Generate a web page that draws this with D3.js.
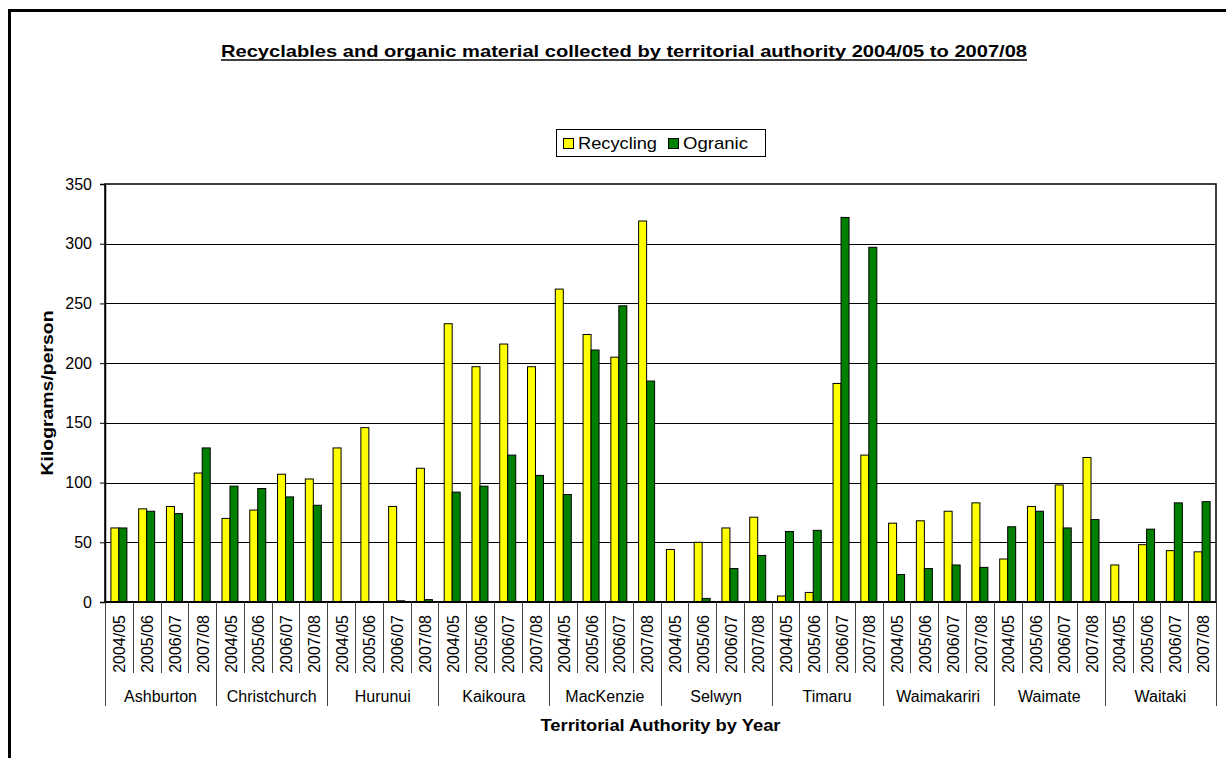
<!DOCTYPE html>
<html>
<head>
<meta charset="utf-8">
<script src="https://cdn.jsdelivr.net/npm/d3@7"></script>
<style>
  body { margin: 0; background: #fff; }
  text { font-family: Arial, "Liberation Sans", sans-serif; fill: #000; }
</style>
</head>
<body>
<div id="chart"></div>
<script>
// chart data (kg/person)
var authorities = ["Ashburton", "Christchurch", "Hurunui", "Kaikoura", "MacKenzie",
  "Selwyn", "Timaru", "Waimakariri", "Waimate", "Waitaki"];
var years = ["2004/05", "2005/06", "2006/07", "2007/08"];
var seriesNames = ["Recycling", "Ogranic"];
var seriesColors = ["#ffff00", "#008000"];

var recycling = [
  62, 78, 80, 108,
  70, 77, 107, 103,
  129, 146, 80, 112,
  233, 197, 216, 197,
  262, 224, 205, 319,
  44, 50, 62, 71,
  5, 8, 183, 123,
  66, 68, 76, 83,
  36, 80, 98, 121,
  31, 48, 43, 42
];
var organic = [
  62, 76, 74, 129,
  97, 95, 88, 81,
  0, 0, 1, 2,
  92, 97, 123, 106,
  90, 211, 248, 185,
  0, 3, 28, 39,
  59, 60, 322, 297,
  23, 28, 31, 29,
  63, 76, 62, 69,
  0, 61, 83, 84
];
var yTicks = [0, 50, 100, 150, 200, 250, 300, 350];

var svgWidth = 1226;
var svgHeight = 758;
var margin = { top: 184, right: 10, bottom: 156, left: 105 };
var width = 1216 - margin.left;
var height = 602 - margin.top;

var svg = d3.select("#chart")
  .append("svg")
  .attr("width", svgWidth)
  .attr("height", svgHeight);

// outer frame (only left and top edges fall inside the picture)
svg.append("rect")
  .attr("x", 9.5)
  .attr("y", 10.5)
  .attr("width", 1400)
  .attr("height", 900)
  .attr("fill", "none")
  .attr("stroke", "#000")
  .attr("stroke-width", 3);

// title
svg.append("text")
  .attr("x", 624)
  .attr("y", 57)
  .attr("text-anchor", "middle")
  .attr("font-size", "17px")
  .attr("font-weight", "bold")
  .attr("textLength", 806)
  .attr("lengthAdjust", "spacingAndGlyphs")
  .text("Recyclables and organic material collected by territorial authority 2004/05 to 2007/08");
svg.append("line")
  .attr("x1", 624 - 403).attr("x2", 624 + 403)
  .attr("y1", 60).attr("y2", 60)
  .attr("stroke", "#000").attr("stroke-width", 1.5);

// legend
var legend = svg.append("g");
legend.append("rect")
  .attr("x", 556.5).attr("y", 129.5)
  .attr("width", 209).attr("height", 27)
  .attr("fill", "#fff").attr("stroke", "#000");
var legendX = [563, 668];
var legendW = [79, 65];
seriesNames.forEach(function (name, i) {
  legend.append("rect")
    .attr("x", legendX[i] + 0.5).attr("y", 138.5)
    .attr("width", 10).attr("height", 10)
    .attr("fill", seriesColors[i]).attr("stroke", "#000");
  legend.append("text")
    .attr("x", legendX[i] + 15)
    .attr("y", 149)
    .attr("font-size", "17px")
    .attr("textLength", legendW[i])
    .attr("lengthAdjust", "spacingAndGlyphs")
    .text(name);
});

var chartGroup = svg.append("g")
  .attr("transform", `translate(${margin.left}, ${margin.top})`);

// scales
var keys = [];
authorities.forEach(function (a, i) {
  years.forEach(function (y, j) { keys.push(i * years.length + j); });
});

var x0 = d3.scaleBand()
  .domain(keys)
  .range([0, width])
  .padding(0);

var x1 = d3.scaleBand()
  .domain([0, 1])
  .range([0, x0.step()])
  .paddingInner(0)
  .paddingOuter(0.736);

var yLinearScale = d3.scaleLinear()
  .domain([0, 350])
  .range([height, 0]);

// gridlines
chartGroup.append("g")
  .selectAll("line")
  .data(yTicks.slice(1, -1))
  .enter()
  .append("line")
  .attr("x1", 0).attr("x2", width)
  .attr("y1", d => Math.round(yLinearScale(d)) + 0.5)
  .attr("y2", d => Math.round(yLinearScale(d)) + 0.5)
  .attr("stroke", "#000")
  .attr("stroke-width", 1);

// plot border
chartGroup.append("rect")
  .attr("x", 0).attr("y", 0)
  .attr("width", width).attr("height", height)
  .attr("fill", "none")
  .attr("stroke", "#000")
  .attr("stroke-width", 1.5);

// y axis
var leftAxis = d3.axisLeft(yLinearScale)
  .tickValues(yTicks)
  .tickSize(5)
  .tickPadding(8);
var yAxis = chartGroup.append("g").call(leftAxis);
yAxis.select(".domain").attr("stroke", "#000").attr("stroke-width", 1.5);
yAxis.selectAll("text")
  .attr("font-size", "16px")
  .attr("font-family", "Arial, 'Liberation Sans', sans-serif")
  .attr("fill", "#000");

// bars
var series = [recycling, organic];
series.forEach(function (vals, s) {
  chartGroup.append("g")
    .selectAll("rect")
    .data(vals)
    .enter()
    .append("rect")
    .attr("x", (d, i) => x0(i) + x1(s))
    .attr("y", d => yLinearScale(d))
    .attr("width", x1.bandwidth())
    .attr("height", d => height - yLinearScale(d))
    .attr("fill", seriesColors[s])
    .attr("stroke", "#000")
    .attr("stroke-width", 1)
    .attr("display", d => d > 0 ? null : "none");
});

// x axis line
chartGroup.append("line")
  .attr("x1", 0).attr("x2", width)
  .attr("y1", height).attr("y2", height)
  .attr("stroke", "#000")
  .attr("stroke-width", 2);

// year separators and labels
var xAxis = chartGroup.append("g").attr("transform", `translate(0, ${height})`);
xAxis.selectAll(".yearSep")
  .data(keys.filter(k => k % years.length !== 0))
  .enter()
  .append("line")
  .attr("x1", d => Math.round(x0(d)) + 0.5)
  .attr("x2", d => Math.round(x0(d)) + 0.5)
  .attr("y1", 0).attr("y2", 71)
  .attr("stroke", "#444");

xAxis.selectAll(".groupSep")
  .data(d3.range(authorities.length + 1))
  .enter()
  .append("line")
  .attr("x1", d => Math.round(d * years.length * x0.step()) + 0.5)
  .attr("x2", d => Math.round(d * years.length * x0.step()) + 0.5)
  .attr("y1", 0).attr("y2", 104)
  .attr("stroke", "#444");

xAxis.selectAll(".yearText")
  .data(keys)
  .enter()
  .append("text")
  .attr("transform", d => `translate(${x0(d) + x0.step() / 2 + 1}, 13) rotate(-90)`)
  .attr("text-anchor", "end")
  .attr("dy", "0.35em")
  .attr("font-size", "16px")
  .text(d => years[d % years.length]);

xAxis.selectAll(".authText")
  .data(authorities)
  .enter()
  .append("text")
  .attr("x", (d, i) => (i + 0.5) * years.length * x0.step())
  .attr("y", 100)
  .attr("text-anchor", "middle")
  .attr("font-size", "16px")
  .text(d => d);

// axis titles
chartGroup.append("text")
  .attr("transform", "rotate(-90)")
  .attr("x", 0 - (height / 2))
  .attr("y", 47 - margin.left)
  .attr("dy", "0.35em")
  .attr("text-anchor", "middle")
  .attr("font-size", "16px")
  .attr("font-weight", "bold")
  .attr("textLength", 165)
  .attr("lengthAdjust", "spacingAndGlyphs")
  .text("Kilograms/person");

chartGroup.append("text")
  .attr("x", width / 2)
  .attr("y", 731 - margin.top)
  .attr("text-anchor", "middle")
  .attr("font-size", "16px")
  .attr("font-weight", "bold")
  .attr("textLength", 240)
  .attr("lengthAdjust", "spacingAndGlyphs")
  .text("Territorial Authority by Year");
</script>
</body>
</html>
